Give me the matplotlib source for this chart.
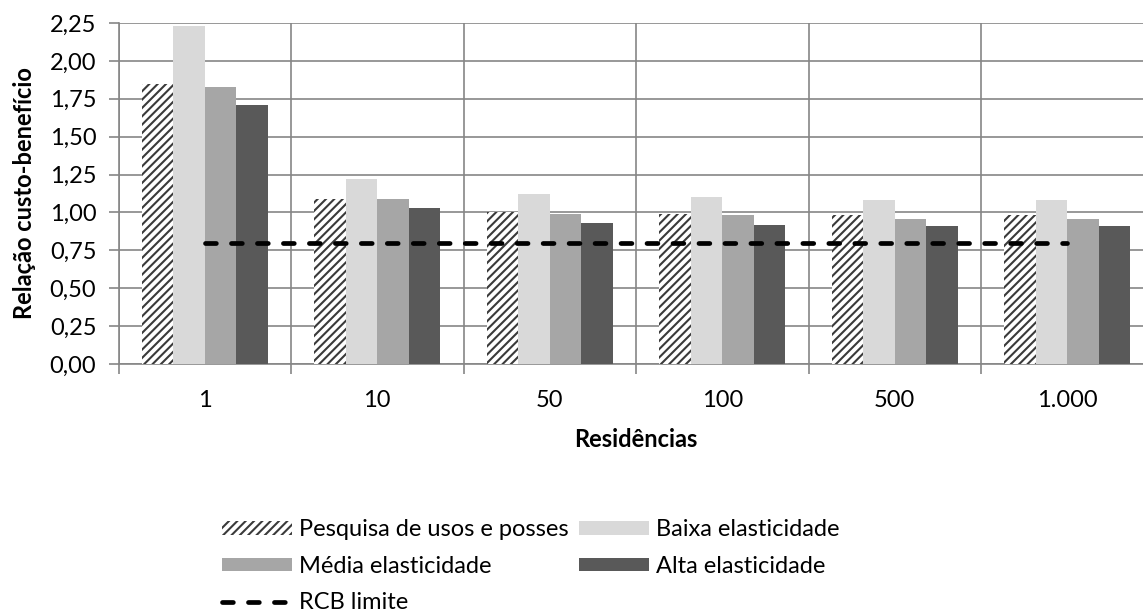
import numpy as np
import matplotlib
matplotlib.use("Agg")
import matplotlib.pyplot as plt
from matplotlib.ticker import FixedLocator, FuncFormatter

plt.rcParams["font.family"] = ["Lato", "DejaVu Sans"]
plt.rcParams["hatch.linewidth"] = 1.5

# Cost-benefit ratio per number of households
residencias = ["1", "10", "50", "100", "500", "1.000"]
pesquisa = [1.85, 1.09, 1.00, 0.99, 0.98, 0.98]
baixa = [2.23, 1.22, 1.12, 1.10, 1.08, 1.08]
media = [1.83, 1.09, 0.99, 0.98, 0.96, 0.96]
alta = [1.71, 1.03, 0.93, 0.92, 0.91, 0.91]
rcb_limite = 0.80

GRID = "#868686"
FS = 17

fig = plt.figure(figsize=(11.43, 6.16), dpi=100)
ax = fig.add_axes([118.5 / 1143, 252 / 616, 1035 / 1143, 341 / 616])

x = np.arange(len(residencias))
w = 0.1826

ax.bar(x - 1.5 * w, pesquisa, w, color="white", edgecolor="#3a3a3a",
       linewidth=0, hatch="////", label="Pesquisa de usos e posses", zorder=3)
ax.bar(x - 0.5 * w, baixa, w, color="#d9d9d9", label="Baixa elasticidade", zorder=3)
ax.bar(x + 0.5 * w, media, w, color="#a6a6a6", label="Média elasticidade", zorder=3)
ax.bar(x + 1.5 * w, alta, w, color="#595959", label="Alta elasticidade", zorder=3)

ax.plot(x, [rcb_limite] * len(x), color="black", lw=3.4,
        dashes=(2.3, 3.2), dash_capstyle="round", zorder=4, label="RCB limite")

ax.set_xlim(-0.5, len(x) - 0.5)
ax.set_ylim(0, 2.25)

ax.yaxis.set_major_locator(FixedLocator(np.arange(0, 2.26, 0.25)))
ax.yaxis.set_major_formatter(FuncFormatter(lambda v, p: f"{v:.2f}".replace(".", ",")))
ax.set_xticks(x)
ax.set_xticklabels(residencias)
ax.xaxis.set_minor_locator(FixedLocator(np.arange(-0.5, len(x), 1.0)))

ax.tick_params(axis="x", which="major", length=0, labelsize=FS, pad=19)
ax.tick_params(axis="x", which="minor", length=7, width=1.2, color=GRID)
ax.tick_params(axis="y", length=7, width=1.2, color=GRID, labelsize=FS, pad=9)

ax.grid(True, axis="y", color=GRID, lw=1.2, zorder=0)
ax.grid(True, axis="x", which="minor", color=GRID, lw=1.2, zorder=0)
ax.set_axisbelow(True)

for side in ["top", "right"]:
    ax.spines[side].set_visible(False)
for side in ["left", "bottom"]:
    ax.spines[side].set_color(GRID)
    ax.spines[side].set_linewidth(1.2)

ax.set_ylabel("Relação custo-benefício", fontsize=FS, fontweight="bold", labelpad=10)
ax.set_xlabel("Residências", fontsize=FS, fontweight="bold", labelpad=12)

handles, labels = ax.get_legend_handles_labels()
order = [1, 3, 0, 2, 4]
fig.legend([handles[i] for i in order], [labels[i] for i in order],
           ncol=2, loc="upper left", bbox_to_anchor=(201 / 1143, 1 - 498 / 616),
           frameon=False, fontsize=FS, handlelength=2.97, handleheight=0.5,
           handletextpad=0.3, columnspacing=0.42, labelspacing=0.66)

fig.savefig("out.png", dpi=100)
